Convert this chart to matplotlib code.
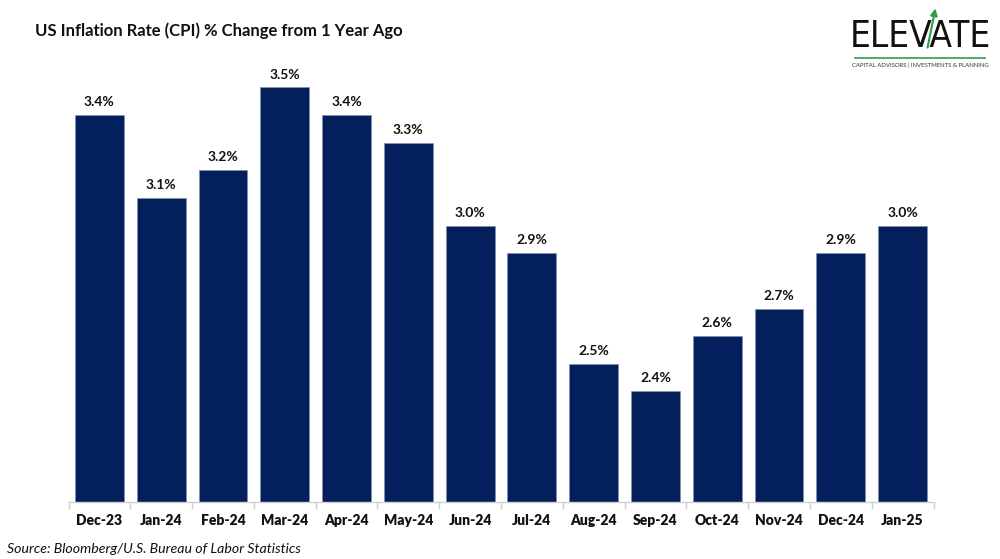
import matplotlib
matplotlib.use("Agg")
import matplotlib.pyplot as plt
from matplotlib.patches import FancyArrowPatch

categories = ["Dec-23", "Jan-24", "Feb-24", "Mar-24", "Apr-24", "May-24", "Jun-24",
              "Jul-24", "Aug-24", "Sep-24", "Oct-24", "Nov-24", "Dec-24", "Jan-25"]
values = [3.4, 3.1, 3.2, 3.5, 3.4, 3.3, 3.0, 2.9, 2.5, 2.4, 2.6, 2.7, 2.9, 3.0]
labels = [f"{v:.1f}%" for v in values]

title = "US Inflation Rate (CPI) % Change from 1 Year Ago"
source = "Source: Bloomberg/U.S. Bureau of Labor Statistics"

BAR = "#03205C"
FONT = ["Lato", "DejaVu Sans"]

fig = plt.figure(figsize=(10, 5.59), dpi=100)
fig.patch.set_facecolor("white")

ax = fig.add_axes([0.0685, 0.102, 0.865, 0.791])
x = list(range(len(categories)))
ax.bar(x, values, width=0.79, color=BAR, edgecolor="#8090b0", linewidth=0.4, zorder=2)
ax.set_ylim(2.0, 3.6)
ax.set_xlim(-0.5, len(categories) - 0.5)

for xi, v, lab in zip(x, values, labels):
    ax.annotate(lab, (xi, v), xytext=(0, 5), textcoords="offset points", ha="center", va="bottom",
                fontsize=10, fontweight="bold", family=FONT, color="#111111")

for s in ["top", "right", "left"]:
    ax.spines[s].set_visible(False)
ax.spines["bottom"].set_color("#d0d0d0")
ax.spines["bottom"].set_linewidth(1.0)
ax.set_yticks([])
ax.set_xticks(x)
ax.set_xticklabels(categories, fontsize=10, fontweight="heavy", family=FONT, color="#111111")
ax.tick_params(axis="x", length=0, pad=9)
ax.set_xticks([i + 0.5 for i in range(-1, len(categories))], minor=True)
ax.tick_params(axis="x", which="minor", length=5, color="#d0d0d0", width=1.0)

fig.text(0.035, 0.945, title, fontsize=12, fontweight="bold", family=FONT, ha="left",
         va="center", color="#111111")
fig.text(0.007, 0.018, source, fontsize=10.2, style="italic", family=FONT, ha="left",
         va="center", color="#111111")

# logo
fig.text(0.920, 0.935, "ELEVATE", fontsize=26.5, family="DejaVu Sans", fontstretch="condensed",
         ha="center", va="center", color="#111111")
fig.add_artist(plt.Line2D([0.855, 0.985], [0.897, 0.897], color="#2e9e44", lw=1.2,
                          transform=fig.transFigure))
fig.text(0.920, 0.884, "CAPITAL ADVISORS | INVESTMENTS & PLANNING", fontsize=4.3,
         family=FONT, ha="center", va="center", color="#333333")
fig.add_artist(FancyArrowPatch((0.927, 0.91), (0.936, 0.99),
               transform=fig.transFigure, arrowstyle="-|>", mutation_scale=10,
               color="#2e9e44", lw=1.5))

fig.savefig("out.png", dpi=100, facecolor="white")
